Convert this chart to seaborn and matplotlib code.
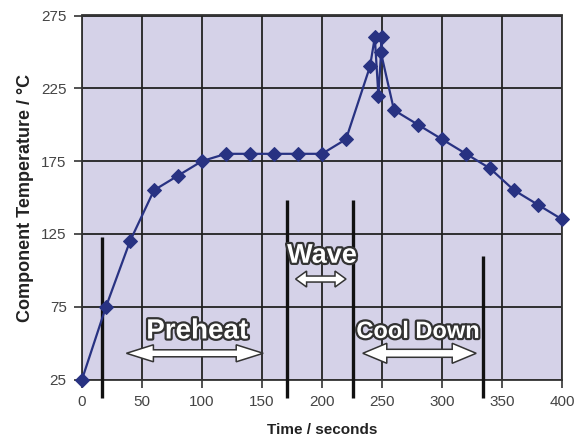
import numpy as np
import pandas as pd
import matplotlib
matplotlib.use("Agg")
import matplotlib.pyplot as plt
import matplotlib.patheffects as pe
from matplotlib.patches import Polygon
import seaborn as sns

# ---- data ----
time_s = [0, 20, 40, 60, 80, 100, 120, 140, 160, 180, 200, 220, 240, 244, 247, 250, 249,
          260, 280, 300, 320, 340, 360, 380, 400]
temp_c = [25, 75, 120, 155, 165, 175, 180, 180, 180, 180, 180, 190, 240, 260, 220, 260, 250,
          210, 200, 190, 180, 170, 155, 145, 135]
phase_lines_x = [17, 171, 225.5, 334.5]
phase_lines_top = [123, 148, 148, 110]
x_ticks = [0, 50, 100, 150, 200, 250, 300, 350, 400]
y_ticks = [25, 75, 125, 175, 225, 275]
phase_labels = ["Preheat", "Wave", "Cool Down"]
label_x = [96, 200, 280]
label_y = [58, 110, 58]
arrow_x0 = [37, 178, 234]
arrow_x1 = [151, 220, 328.5]
arrow_y = [43, 94, 43]

df = pd.DataFrame({"time": time_s, "temp": temp_c})

sns.set_theme(style="white")
plt.rcParams["font.family"] = ["Liberation Sans", "DejaVu Sans"]

W, H, DPI = 578, 440, 100
fig = plt.figure(figsize=(W / DPI, H / DPI), dpi=DPI)
left, right = 82 / W, 562 / W
bottom, top = 1 - 379.5 / H, 1 - 15.5 / H
ax = fig.add_axes([left, bottom, right - left, top - bottom])
ax.set_facecolor("#d5d2e8")

navy = "#283282"
sns.lineplot(data=df, x="time", y="temp", sort=False, estimator=None, ax=ax,
             color=navy, linewidth=1.6, marker="D", markersize=7,
             markeredgecolor=navy, markerfacecolor=navy, zorder=5, clip_on=False)

ax.set_xlim(0, 400)
ax.set_ylim(25, 275)
ax.set_xticks(x_ticks)
ax.set_yticks(y_ticks)
ax.grid(True, color="#222222", linewidth=1.3)
ax.set_axisbelow(True)
for s in ax.spines.values():
    s.set_color("#333333")
    s.set_linewidth(1.3)
ax.tick_params(axis="both", which="major", direction="out", length=6, width=1.2,
               color="#333333", labelcolor="#444444", labelsize=11, pad=5,
               bottom=True, left=True)
ax.set_xlabel("Time / seconds", fontsize=11, fontweight="bold", color="#222222", labelpad=10)
ax.set_ylabel("Component Temperature / °C", fontsize=13, fontweight="bold", color="#222222",
              labelpad=5)

# phase separator lines, extending below the axis
for x, t in zip(phase_lines_x, phase_lines_top):
    ax.plot([x, x], [12.5, t], color="#111111", linewidth=2.4, clip_on=False, zorder=4,
            solid_capstyle="butt")

# px -> data scale
px_x = 480 / 400.0
px_y = 364 / 250.0


def double_arrow(x0, x1, y, head_len_px, head_h_px, shaft_h_px):
    hl = head_len_px / px_x
    hh = head_h_px / 2 / px_y
    sh = shaft_h_px / 2 / px_y
    pts = [(x0, y), (x0 + hl, y + hh), (x0 + hl, y + sh), (x1 - hl, y + sh),
           (x1 - hl, y + hh), (x1, y), (x1 - hl, y - hh), (x1 - hl, y - sh),
           (x0 + hl, y - sh), (x0 + hl, y - hh)]
    poly = Polygon(pts, closed=True, facecolor="white", edgecolor="#333333",
                   linewidth=1.1, zorder=6)
    ax.add_patch(poly)


arrow_dims = [(27, 17, 7), (11, 16, 6), (24, 20, 8)]
for x0, x1, y, d in zip(arrow_x0, arrow_x1, arrow_y, arrow_dims):
    double_arrow(x0, x1, y, *d)

label_sizes = [20, 19.5, 17]
for txt, x, y, fs in zip(phase_labels, label_x, label_y, label_sizes):
    ax.text(x, y, txt, ha="center", va="center", fontsize=fs, fontweight="bold",
            color="white", zorder=7,
            path_effects=[pe.withStroke(linewidth=3.2, foreground="#333333")])

fig.savefig("out.png", dpi=DPI)
